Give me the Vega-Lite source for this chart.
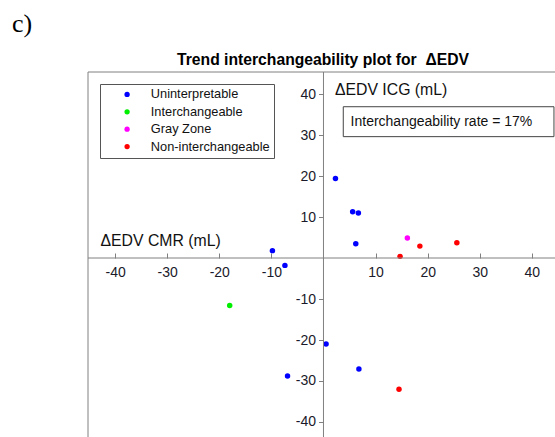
{
  "$schema": "https://vega.github.io/schema/vega-lite/v6.json",
  "width": 467,
  "height": 365,
  "autosize": {"type": "none"},
  "padding": {"left": 88, "top": 72, "right": 0, "bottom": 0},
  "background": "white",
  "config": {
    "view": {"stroke": null},
    "font": "Liberation Sans",
    "legend": {
      "orient": "none",
      "legendX": 12,
      "legendY": 12,
      "strokeColor": "#555555",
      "fillColor": "white",
      "padding": 4,
      "rowPadding": 3.4,
      "labelFontSize": 12.8,
      "labelFont": "Liberation Sans",
      "labelColor": "#111111",
      "symbolType": "circle",
      "symbolSize": 28,
      "symbolStrokeWidth": 0,
      "symbolOffset": 16.7,
      "labelOffset": 17.3
    }
  },
  "title": {
    "text": "Trend interchangeability plot for \u00a0ΔEDV",
    "font": "Liberation Sans",
    "fontSize": 15.7,
    "fontWeight": "bold",
    "color": "black",
    "anchor": "middle",
    "frame": "group",
    "baseline": "alphabetic",
    "offset": 5,
    "dx": 1.5,
    "dy": 75.5
  },
  "datasets": {
    "points": [
      {"cmr": 2.3, "icg": 19.4, "zone": "Uninterpretable"},
      {"cmr": 5.6, "icg": 11.3, "zone": "Uninterpretable"},
      {"cmr": 6.7, "icg": 11.0, "zone": "Uninterpretable"},
      {"cmr": 6.2, "icg": 3.5, "zone": "Uninterpretable"},
      {"cmr": -9.8, "icg": 1.8, "zone": "Uninterpretable"},
      {"cmr": -7.4, "icg": -1.8, "zone": "Uninterpretable"},
      {"cmr": 0.5, "icg": -21.0, "zone": "Uninterpretable"},
      {"cmr": -6.9, "icg": -28.8, "zone": "Uninterpretable"},
      {"cmr": 6.8, "icg": -27.1, "zone": "Uninterpretable"},
      {"cmr": -18.0, "icg": -11.6, "zone": "Interchangeable"},
      {"cmr": 16.1, "icg": 4.9, "zone": "Gray Zone"},
      {"cmr": 18.5, "icg": 2.9, "zone": "Non-interchangeable"},
      {"cmr": 25.6, "icg": 3.7, "zone": "Non-interchangeable"},
      {"cmr": 14.7, "icg": 0.4, "zone": "Non-interchangeable"},
      {"cmr": 14.5, "icg": -32.0, "zone": "Non-interchangeable"}
    ]
  },
  "layer": [
    {
      "data": {"name": "points"},
      "mark": {"type": "circle", "size": 30, "opacity": 1},
      "encoding": {
        "x": {
          "field": "cmr", "type": "quantitative",
          "scale": {"domain": [-45.2, 44.44], "nice": false, "zero": false},
          "axis": {
            "orient": "bottom", "offset": -179, "title": null, "domain": false, "grid": false,
            "values": [-40, -30, -20, -10, 10, 20, 30, 40],
            "labelExpr": "'' + datum.value",
            "tickSize": -5, "tickColor": "#808080", "labelPadding": 12,
            "labelFontSize": 14, "labelFont": "Liberation Sans", "labelColor": "#1a1a2a"
          }
        },
        "y": {
          "field": "icg", "type": "quantitative",
          "scale": {"domain": [-43.66, 45.37], "nice": false, "zero": false},
          "axis": {
            "orient": "left", "offset": -235.5, "title": null, "domain": false, "grid": false,
            "values": [-40, -30, -20, -10, 10, 20, 30, 40],
            "labelExpr": "'' + datum.value",
            "tickSize": 5, "tickColor": "#808080", "labelPadding": 3,
            "labelFontSize": 14, "labelFont": "Liberation Sans", "labelColor": "#1a1a2a",
            "labelBaseline": "middle"
          }
        },
        "color": {
          "field": "zone", "type": "nominal",
          "scale": {
            "domain": ["Uninterpretable", "Interchangeable", "Gray Zone", "Non-interchangeable"],
            "range": ["#0000FF", "#00EE00", "#FF00FF", "#FF0000"]
          },
          "legend": {"title": null}
        }
      }
    },
    {
      "data": {"values": [{"cmr": -45.2}, {"cmr": 0}]},
      "mark": {"type": "rule", "color": "#808080", "strokeWidth": 1},
      "encoding": {
        "x": {"field": "cmr", "type": "quantitative"}
      }
    },
    {
      "data": {"values": [{"icg": 45.37}, {"icg": 0}]},
      "mark": {"type": "rule", "color": "#808080", "strokeWidth": 1},
      "encoding": {
        "y": {"field": "icg", "type": "quantitative"}
      }
    },
    {
      "data": {"values": [{"cmr": 3.8, "cmr2": 44.24, "icg": 29.6, "icg2": 36.9}]},
      "mark": {"type": "rect", "fill": "white", "stroke": "#444444", "strokeWidth": 1},
      "encoding": {
        "x": {"field": "cmr", "type": "quantitative"},
        "x2": {"field": "cmr2"},
        "y": {"field": "icg", "type": "quantitative"},
        "y2": {"field": "icg2"}
      }
    },
    {
      "data": {"values": [{"cmr": 5.2, "icg": 32.2, "label": "Interchangeability rate = 17%"}]},
      "mark": {"type": "text", "align": "left", "baseline": "alphabetic", "fontSize": 14, "font": "Liberation Sans", "color": "#111111"},
      "encoding": {
        "x": {"field": "cmr", "type": "quantitative"},
        "y": {"field": "icg", "type": "quantitative"},
        "text": {"field": "label"}
      }
    },
    {
      "data": {"values": [
        {"cmr": 2.2, "icg": 39.8, "label": "ΔEDV ICG (mL)"},
        {"cmr": -42.8, "icg": 2.9, "label": "ΔEDV CMR (mL)"}
      ]},
      "mark": {"type": "text", "align": "left", "baseline": "alphabetic", "fontSize": 15.8, "font": "Liberation Sans", "color": "#111111"},
      "encoding": {
        "x": {"field": "cmr", "type": "quantitative"},
        "y": {"field": "icg", "type": "quantitative"},
        "text": {"field": "label"}
      }
    },
    {
      "data": {"values": [{"cmr": -59.8, "icg": 55.2, "label": "c)"}]},
      "mark": {"type": "text", "align": "left", "baseline": "alphabetic", "fontSize": 26, "font": "Liberation Serif", "color": "black", "clip": false},
      "encoding": {
        "x": {"field": "cmr", "type": "quantitative"},
        "y": {"field": "icg", "type": "quantitative"},
        "text": {"field": "label"}
      }
    }
  ]
}
